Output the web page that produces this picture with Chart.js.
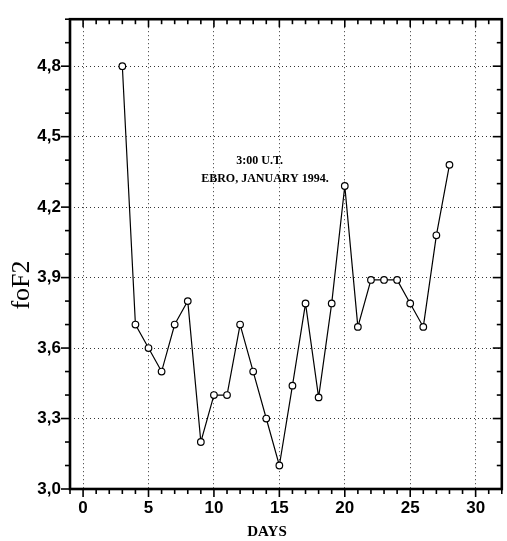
<!DOCTYPE html>
<html lang="en">
<head>
<meta charset="UTF-8">
<script src="https://cdn.jsdelivr.net/npm/chart.js"></script>
<style>
  html, body { margin: 0; padding: 0; background: #fff; }
  #wrap { width: 507px; height: 541px; }
</style>
</head>
<body>
<div id="wrap"><canvas id="chart"></canvas></div>
<script>
const days = [3, 4, 5, 6, 7, 8, 9, 10, 11, 12, 13, 14, 15, 16, 17, 18, 19, 20, 21, 22, 23, 24, 25, 26, 27, 28];
const foF2 = [4.8, 3.7, 3.6, 3.5, 3.7, 3.8, 3.2, 3.4, 3.4, 3.7, 3.5, 3.3, 3.1, 3.44, 3.79, 3.39, 3.79, 4.29, 3.69, 3.89, 3.89, 3.89, 3.79, 3.69, 4.08, 4.38];
const xTicks = [0, 5, 10, 15, 20, 25, 30];
const yTicks = [3.0, 3.3, 3.6, 3.9, 4.2, 4.5, 4.8];
const xRange = [-1, 32];
const yRange = [3.0, 5.0];
const titleLines = ['3:00 U.T.', 'EBRO, JANUARY 1994.'];

const sans = "'Liberation Sans', Arial, sans-serif";
const serif = "'Liberation Serif', 'Times New Roman', serif";

function seg(ctx, x1, y1, x2, y2) {
    ctx.beginPath();
    ctx.moveTo(x1, y1);
    ctx.lineTo(x2, y2);
    ctx.stroke();
}

// frame, minor ticks and free text
const decor = {
    id: 'decor',
    afterDraw(chart) {
        const { ctx, chartArea: a, scales: { x, y } } = chart;
        ctx.save();
        ctx.strokeStyle = '#000';
        ctx.lineWidth = 1.6;

        for (let d = xRange[0]; d <= xRange[1]; d++) {
            const px = x.getPixelForValue(d);
            const len = d % 5 === 0 ? 8 : 5;
            seg(ctx, px, a.bottom, px, a.bottom + len);
            seg(ctx, px, a.top, px, a.top + len);
        }
        for (let i = 30; i <= 50; i++) {
            const py = y.getPixelForValue(i / 10);
            const len = (i - 30) % 3 === 0 ? 9 : 5;
            seg(ctx, a.left - len, py, a.left, py);
            seg(ctx, a.right - len, py, a.right, py);
        }

        ctx.lineWidth = 2.6;
        ctx.strokeRect(a.left, a.top, a.right - a.left, a.bottom - a.top);

        ctx.fillStyle = '#000';
        ctx.textAlign = 'center';
        ctx.textBaseline = 'middle';
        ctx.font = 'bold 12px ' + serif;
        ctx.fillText(titleLines[0], x.getPixelForValue(13.5), y.getPixelForValue(4.395));
        ctx.fillText(titleLines[1], x.getPixelForValue(13.9), y.getPixelForValue(4.32));

        ctx.font = 'bold 15px ' + serif;
        ctx.fillText('DAYS', 267, 532);

        ctx.translate(22, 285);
        ctx.rotate(-Math.PI / 2);
        ctx.font = '26px ' + serif;
        ctx.fillText('foF2', 0, 0);
        ctx.restore();
    }
};

const grid = {
    color: '#333',
    lineWidth: 1,
    drawTicks: false
};
// in v4 the grid line dash comes from the border options
const border = { display: false, dash: [1, 3] };

new Chart(document.getElementById('chart'), {
    type: 'line',
    data: {
        datasets: [{
            data: days.map((d, i) => ({ x: d, y: foF2[i] })),
            borderColor: '#000',
            borderWidth: 1.2,
            backgroundColor: '#fff',
            pointRadius: 3.3,
            pointBorderWidth: 1.2,
            pointBackgroundColor: '#fff',
            pointBorderColor: '#000',
            tension: 0
        }]
    },
    options: {
        responsive: true,
        maintainAspectRatio: false,
        animation: false,
        layout: { padding: { left: 0, right: 5, top: 9, bottom: 0 } },
        plugins: { legend: { display: false }, tooltip: { enabled: false } },
        scales: {
            x: {
                type: 'linear',
                min: xRange[0],
                max: xRange[1],
                afterBuildTicks: s => { s.ticks = xTicks.map(v => ({ value: v })); },
                afterFit: s => { s.height = 52; },
                grid: grid,
                border: border,
                ticks: {
                    padding: 9,
                    color: '#000',
                    font: { family: sans, size: 17, weight: 'bold' },
                    maxRotation: 0,
                    callback: v => String(v)
                }
            },
            y: {
                type: 'linear',
                min: yRange[0],
                max: yRange[1],
                afterBuildTicks: s => { s.ticks = yTicks.map(v => ({ value: v })); },
                afterFit: s => { s.width = 70; },
                grid: grid,
                border: border,
                ticks: {
                    padding: 9,
                    color: '#000',
                    font: { family: sans, size: 17, weight: 'bold' },
                    callback: v => Number(v).toFixed(1).replace('.', ',')
                }
            }
        }
    },
    plugins: [decor]
});
</script>
</body>
</html>
